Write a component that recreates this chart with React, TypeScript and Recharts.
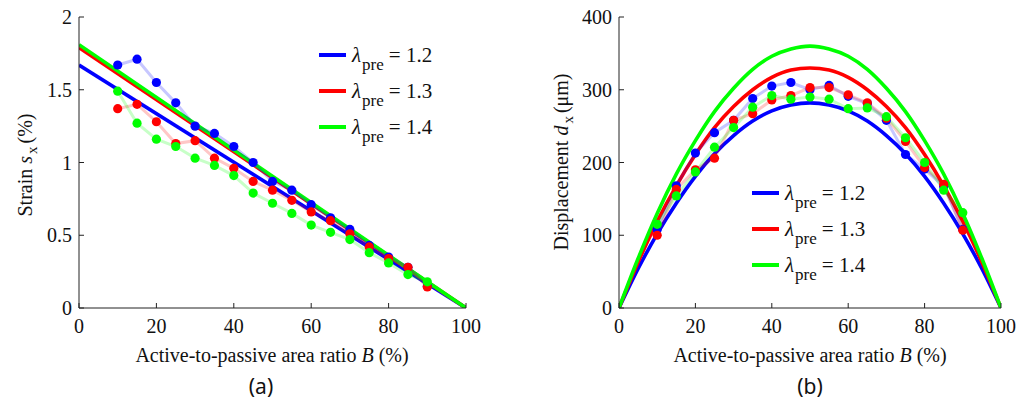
import React from 'react';
import { ComposedChart, Line, XAxis, YAxis } from 'recharts';

const SERIF = "'Liberation Serif', 'DejaVu Serif', serif";
const SANS = "'Noto Sans', 'Open Sans', sans-serif";

const BLUE = '#0000ff';
const RED = '#ff0000';
const GREEN = '#00ff00';

// categories
const B_DOTS = [10, 15, 20, 25, 30, 35, 40, 45, 50, 55, 60, 65, 70, 75, 80, 85, 90];
const B_LINE = [0, 100];
const B_CURVE = [0, 5, 10, 15, 20, 25, 30, 35, 40, 45, 50, 55, 60, 65, 70, 75, 80, 85, 90, 95, 100];
const X_TICKS = [0, 20, 40, 60, 80, 100];
const STRAIN_TICKS = [0, 0.5, 1, 1.5, 2];
const DISP_TICKS = [0, 100, 200, 300, 400];

// (a) strain – measured points
const strainBlue = [1.67, 1.71, 1.55, 1.41, 1.25, 1.2, 1.11, 1.0, 0.87, 0.81, 0.71, 0.62, 0.54, 0.43, 0.35, 0.28, 0.15];
const strainRed = [1.37, 1.4, 1.28, 1.13, 1.15, 1.03, 0.96, 0.87, 0.81, 0.74, 0.66, 0.6, 0.51, 0.42, 0.34, 0.28, 0.145];
const strainGreen = [1.49, 1.27, 1.16, 1.11, 1.03, 0.98, 0.91, 0.79, 0.72, 0.65, 0.57, 0.52, 0.47, 0.38, 0.31, 0.23, 0.18];
// (a) strain – model lines
const strainLineBlue = [1.67, 0];
const strainLineRed = [1.79, 0];
const strainLineGreen = [1.81, 0];

// (b) displacement – measured points
const dispBlue = [108, 168, 213, 241, 258, 288, 305, 310, 300, 306, 291, 281, 258, 211, 191, 167, 108];
const dispRed = [100, 163, 190, 206, 258, 267, 286, 292, 303, 303, 293, 282, 261, 229, 193, 170, 107];
const dispGreen = [115, 154, 187, 221, 248, 276, 292, 287, 290, 287, 274, 275, 263, 234, 200, 162, 131];
// (b) displacement – model curves
const dispCurveBlue = [0, 54, 102, 144, 181, 212, 237, 257, 271, 279, 282, 279, 271, 257, 237, 212, 181, 144, 102, 54, 0];
const dispCurveRed = [0, 63, 119, 168, 211, 248, 277, 300, 317, 327, 330, 327, 317, 300, 277, 248, 211, 168, 119, 63, 0];
const dispCurveGreen = [0, 68, 130, 184, 230, 270, 302, 328, 346, 356, 360, 356, 346, 328, 302, 270, 230, 184, 130, 68, 0];

const LEGEND_LABELS = ['1.2', '1.3', '1.4'];
const COLORS = [BLUE, RED, GREEN];

const toRows = (xs: number[], ys: number[]) => xs.map((x, i) => ({ B: x, v: ys[i] }));

const serifStyle = { fontFamily: SERIF } as React.CSSProperties;
const tickStyle = { fontSize: 20, fill: '#111', style: serifStyle, fontFamily: SERIF };
const axisLine = { stroke: '#222', strokeWidth: 1 };
const tickLine = { stroke: '#222', strokeWidth: 1 };

function dotSeries(key: string, rows: { B: number; v: number }[], color: string) {
  return (
    <Line
      key={key}
      data={rows}
      dataKey="v"
      type="linear"
      stroke={color}
      strokeOpacity={0.22}
      strokeWidth={3}
      dot={{ r: 4.6, fill: color, stroke: 'none', fillOpacity: 1 }}
      isAnimationActive={false}
    />
  );
}

function modelSeries(key: string, rows: { B: number; v: number }[], color: string, curve: 'linear' | 'monotone') {
  return (
    <Line
      key={key}
      data={rows}
      dataKey="v"
      type={curve}
      stroke={color}
      strokeWidth={3.6}
      dot={false}
      isAnimationActive={false}
    />
  );
}

function Legend({ x, y, gap }: { x: number; y: number; gap: number }) {
  return (
    <g>
      {LEGEND_LABELS.map((lab, i) => {
        const cy = y + i * gap;
        return (
          <g key={lab}>
            <line x1={x} x2={x + 27} y1={cy} y2={cy} stroke={COLORS[i]} strokeWidth={4} />
            <text x={x + 33} y={cy + 7} style={serifStyle} fontSize={21} fill="#111">
              <tspan fontStyle="italic">λ</tspan>
              <tspan fontSize={17} dy={8} dx={1}>pre</tspan>
              <tspan dy={-8} dx={5}>= {lab}</tspan>
            </text>
          </g>
        );
      })}
    </g>
  );
}

function Chart({
  left,
  margin,
  yDomain,
  yTicks,
  children,
}: {
  left: number;
  margin: { top: number; right: number; bottom: number; left: number };
  yDomain: [number, number];
  yTicks: number[];
  children: React.ReactNode;
}) {
  return (
    <div style={{ position: 'absolute', left, top: 0 }}>
      <ComposedChart width={515} height={406} margin={margin}>
        <XAxis
          dataKey="B"
          type="number"
          domain={[0, 100]}
          ticks={X_TICKS}
          allowDataOverflow
          height={30}
          tickSize={-5}
          tickMargin={16}
          tick={tickStyle}
          axisLine={axisLine}
          tickLine={tickLine}
        />
        <XAxis
          xAxisId="top"
          orientation="top"
          dataKey="B"
          type="number"
          domain={[0, 100]}
          ticks={X_TICKS}
          allowDataOverflow
          height={0}
          tickSize={-5}
          tick={false}
          axisLine={axisLine}
          tickLine={tickLine}
        />
        <YAxis
          type="number"
          domain={yDomain}
          ticks={yTicks}
          allowDataOverflow
          width={40}
          tickSize={-5}
          tickMargin={12}
          tick={tickStyle}
          axisLine={axisLine}
          tickLine={tickLine}
        />
        <YAxis
          yAxisId="right"
          orientation="right"
          type="number"
          domain={yDomain}
          ticks={yTicks}
          allowDataOverflow
          width={0}
          tickSize={-5}
          tick={false}
          axisLine={axisLine}
          tickLine={tickLine}
        />
        {children}
      </ComposedChart>
    </div>
  );
}

export default function App() {
  return (
    <div style={{ position: 'absolute', left: 0, top: 0, width: 1030, height: 406, background: '#fff', fontFamily: SERIF }}>
      <Chart left={0} margin={{ top: 17, right: 49, bottom: 68, left: 39 }} yDomain={[0, 2]} yTicks={STRAIN_TICKS}>
        {modelSeries('lb', toRows(B_LINE, strainLineBlue), BLUE, 'linear')}
        {modelSeries('lr', toRows(B_LINE, strainLineRed), RED, 'linear')}
        {modelSeries('lg', toRows(B_LINE, strainLineGreen), GREEN, 'linear')}
        {dotSeries('db', toRows(B_DOTS, strainBlue), BLUE)}
        {dotSeries('dr', toRows(B_DOTS, strainRed), RED)}
        {dotSeries('dg', toRows(B_DOTS, strainGreen), GREEN)}
      </Chart>
      <Chart left={515} margin={{ top: 17, right: 29, bottom: 68, left: 64 }} yDomain={[0, 400]} yTicks={DISP_TICKS}>
        {modelSeries('cb', toRows(B_CURVE, dispCurveBlue), BLUE, 'monotone')}
        {modelSeries('cr', toRows(B_CURVE, dispCurveRed), RED, 'monotone')}
        {modelSeries('cg', toRows(B_CURVE, dispCurveGreen), GREEN, 'monotone')}
        {dotSeries('eb', toRows(B_DOTS, dispBlue), BLUE)}
        {dotSeries('er', toRows(B_DOTS, dispRed), RED)}
        {dotSeries('eg', toRows(B_DOTS, dispGreen), GREEN)}
      </Chart>
      <svg
        width={1030}
        height={406}
        style={{ position: 'absolute', left: 0, top: 0, pointerEvents: 'none' }}
      >
        <Legend x={319} y={55} gap={36} />
        <Legend x={752} y={193} gap={36} />
        <text x={272} y={362} textAnchor="middle" style={serifStyle} fontSize={20} fill="#111">
          Active-to-passive area ratio <tspan fontStyle="italic">B</tspan> (%)
        </text>
        <text x={810} y={362} textAnchor="middle" style={serifStyle} fontSize={20} fill="#111">
          Active-to-passive area ratio <tspan fontStyle="italic">B</tspan> (%)
        </text>
        <text transform="translate(32,165) rotate(-90)" textAnchor="middle" style={serifStyle} fontSize={20} fill="#111">
          Strain <tspan fontStyle="italic">s</tspan>
          <tspan fontSize={15} dy={5} dx={2}>x</tspan>
          <tspan dy={-5} dx={3}>(%)</tspan>
        </text>
        <text transform="translate(568,162) rotate(-90)" textAnchor="middle" style={serifStyle} fontSize={20} fill="#111">
          Displacement <tspan fontStyle="italic">d</tspan>
          <tspan fontSize={15} dy={5} dx={2}>x</tspan>
          <tspan dy={-5} dx={3}>(μm)</tspan>
        </text>
        <text x={261} y={394} textAnchor="middle" style={{ fontFamily: SANS }} fontSize={21} fill="#111">(a)</text>
        <text x={810} y={394} textAnchor="middle" style={{ fontFamily: SANS }} fontSize={21} fill="#111">(b)</text>
      </svg>
    </div>
  );
}
